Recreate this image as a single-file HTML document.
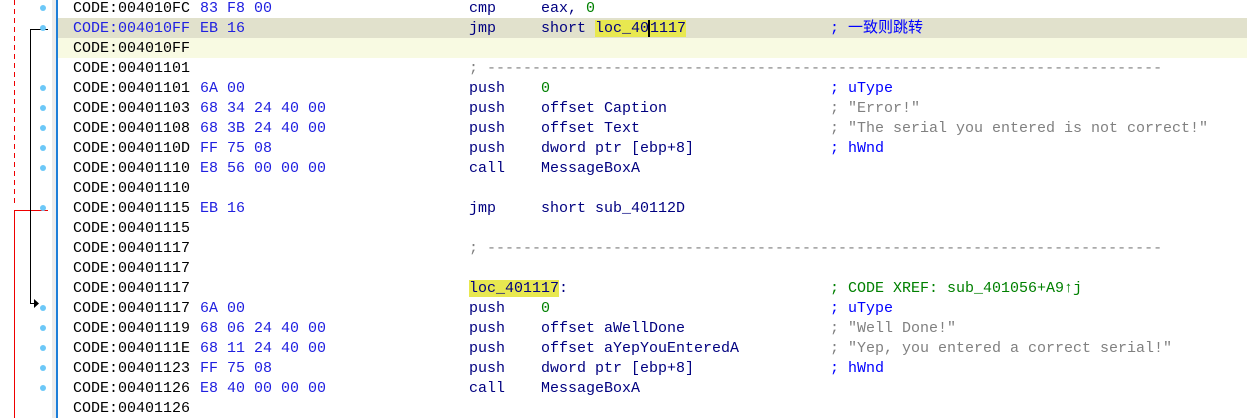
<!DOCTYPE html>
<html><head><meta charset="utf-8"><style>
body{margin:0;width:1247px;height:418px;overflow:hidden;background:#fff;position:relative;font-family:"Liberation Mono","Noto Sans CJK SC",monospace;font-size:15px}
.r{position:absolute;left:57px;right:0;height:20px;line-height:20px;white-space:pre;margin-top:1px}
.r span{position:absolute;top:0}
.a{left:16px;color:#000}
.b{left:143px;color:#2020e0}
.m{left:412px;color:#000080}
.o{left:484px;color:#000080}
.c{left:773px;color:#0000ff}
.g{color:#008000}
.s{color:#808080}
.hl{background:#e8e850}
.dot{position:absolute;left:40px;width:6px;height:6px;border-radius:3px;background:#6cc8f8}
</style></head><body>
<div style="position:absolute;left:52px;top:0;width:4px;height:418px;background:#ececec"></div>
<div style="position:absolute;left:56px;top:0;width:2px;height:418px;background:#1e7ed8"></div>
<div style="position:absolute;left:58px;top:18px;right:0;height:20px;background:#e1e1cc"></div>
<div style="position:absolute;left:58px;top:38px;right:0;height:20px;background:#f8fae2"></div>
<svg style="position:absolute;left:0;top:0" width="56" height="418">
<line x1="14.5" y1="0" x2="14.5" y2="205" stroke="#e00" stroke-width="1" stroke-dasharray="5,4"/>
<polyline points="48,210.5 14.5,210.5 14.5,418" fill="none" stroke="#e00" stroke-width="1"/>
<polyline points="48,29.5 30.5,29.5 30.5,303.5 34,303.5" fill="none" stroke="#000" stroke-width="1"/>
<polygon points="34,299 39,303.5 34,308" fill="#000"/>
</svg>
<div class="dot" style="top:5px"></div><div class="dot" style="top:25px"></div>
<div class="dot" style="top:85px"></div><div class="dot" style="top:105px"></div><div class="dot" style="top:125px"></div><div class="dot" style="top:145px"></div><div class="dot" style="top:165px"></div>
<div class="dot" style="top:205px"></div>
<div class="dot" style="top:305px"></div><div class="dot" style="top:325px"></div><div class="dot" style="top:345px"></div><div class="dot" style="top:365px"></div><div class="dot" style="top:385px"></div>

<div class="r" style="top:-2px"><span class="a">CODE:004010FC</span><span class="b">83 F8 00</span><span class="m">cmp</span><span class="o">eax, <span class="g" style="position:static">0</span></span></div>
<div class="r" style="top:18px"><span class="a" style="color:#2020e0">CODE:004010FF</span><span class="b">EB 16</span><span class="m">jmp</span><span class="o">short <span class="hl" style="position:static">loc_40<span style="border-left:2px solid #000;margin-left:-1px;position:static">1117</span></span></span><span class="c">; 一致则跳转</span></div>
<div class="r" style="top:38px"><span class="a">CODE:004010FF</span></div>
<div class="r" style="top:58px"><span class="a">CODE:00401101</span><span class="m s">; ---------------------------------------------------------------------------</span></div>
<div class="r" style="top:78px"><span class="a">CODE:00401101</span><span class="b">6A 00</span><span class="m">push</span><span class="o g">0</span><span class="c">; uType</span></div>
<div class="r" style="top:98px"><span class="a">CODE:00401103</span><span class="b">68 34 24 40 00</span><span class="m">push</span><span class="o">offset Caption</span><span class="c s">; "Error!"</span></div>
<div class="r" style="top:118px"><span class="a">CODE:00401108</span><span class="b">68 3B 24 40 00</span><span class="m">push</span><span class="o">offset Text</span><span class="c s">; "The serial you entered is not correct!"</span></div>
<div class="r" style="top:138px"><span class="a">CODE:0040110D</span><span class="b">FF 75 08</span><span class="m">push</span><span class="o">dword ptr [ebp+8]</span><span class="c">; hWnd</span></div>
<div class="r" style="top:158px"><span class="a">CODE:00401110</span><span class="b">E8 56 00 00 00</span><span class="m">call</span><span class="o">MessageBoxA</span></div>
<div class="r" style="top:178px"><span class="a">CODE:00401110</span></div>
<div class="r" style="top:198px"><span class="a">CODE:00401115</span><span class="b">EB 16</span><span class="m">jmp</span><span class="o">short sub_40112D</span></div>
<div class="r" style="top:218px"><span class="a">CODE:00401115</span></div>
<div class="r" style="top:238px"><span class="a">CODE:00401117</span><span class="m s">; ---------------------------------------------------------------------------</span></div>
<div class="r" style="top:258px"><span class="a">CODE:00401117</span></div>
<div class="r" style="top:278px"><span class="a">CODE:00401117</span><span class="m"><span class="hl" style="position:static">loc_401117</span>:</span><span class="c g">; CODE XREF: sub_401056+A9↑j</span></div>
<div class="r" style="top:298px"><span class="a">CODE:00401117</span><span class="b">6A 00</span><span class="m">push</span><span class="o g">0</span><span class="c">; uType</span></div>
<div class="r" style="top:318px"><span class="a">CODE:00401119</span><span class="b">68 06 24 40 00</span><span class="m">push</span><span class="o">offset aWellDone</span><span class="c s">; "Well Done!"</span></div>
<div class="r" style="top:338px"><span class="a">CODE:0040111E</span><span class="b">68 11 24 40 00</span><span class="m">push</span><span class="o">offset aYepYouEnteredA</span><span class="c s">; "Yep, you entered a correct serial!"</span></div>
<div class="r" style="top:358px"><span class="a">CODE:00401123</span><span class="b">FF 75 08</span><span class="m">push</span><span class="o">dword ptr [ebp+8]</span><span class="c">; hWnd</span></div>
<div class="r" style="top:378px"><span class="a">CODE:00401126</span><span class="b">E8 40 00 00 00</span><span class="m">call</span><span class="o">MessageBoxA</span></div>
<div class="r" style="top:398px"><span class="a">CODE:00401126</span></div>
</body></html>
